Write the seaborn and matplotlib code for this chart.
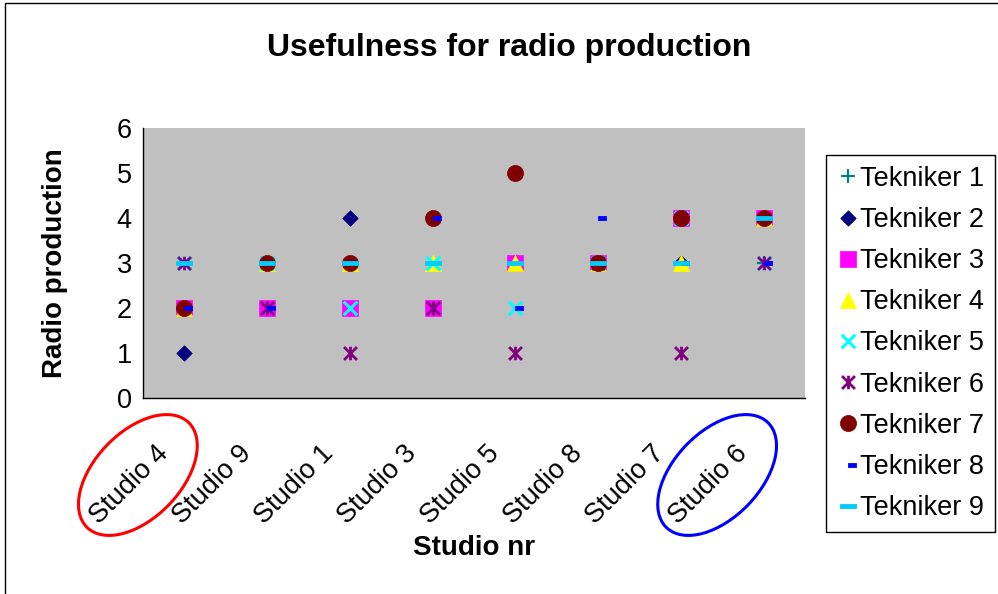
import numpy as np
import pandas as pd
import matplotlib
matplotlib.use("Agg")
import matplotlib.pyplot as plt
import matplotlib.transforms as mtransforms
from matplotlib.path import Path
from matplotlib.patches import Ellipse, Rectangle
import seaborn as sns

# ---- data -------------------------------------------------------------
studios = ["Studio 4", "Studio 9", "Studio 1", "Studio 3",
           "Studio 5", "Studio 8", "Studio 7", "Studio 6"]
tekniker_1 = [2, 3, 3, 2, 3, 3, 4, 3]
tekniker_2 = [1, 2, 4, 2, 3, 3, 3, 4]
tekniker_3 = [2, 2, 2, 2, 3, 3, 4, 4]
tekniker_4 = [2, 3, 3, 3, 3, 3, 3, 4]
tekniker_5 = [3, 3, 2, 3, 2, 3, 4, 3]
tekniker_6 = [3, 2, 1, 2, 1, 3, 1, 3]
tekniker_7 = [2, 3, 3, 4, 5, 3, 4, 4]
tekniker_8 = [2, 2, 3, 4, 2, 4, 3, 3]
tekniker_9 = [3, 3, 3, 3, 3, 3, 3, 4]
series_names = ["Tekniker 1", "Tekniker 2", "Tekniker 3", "Tekniker 4",
                "Tekniker 5", "Tekniker 6", "Tekniker 7", "Tekniker 8",
                "Tekniker 9"]
highlighted = {"Studio 4": "#FF0000", "Studio 6": "#0000FF"}

ratings = [tekniker_1, tekniker_2, tekniker_3, tekniker_4, tekniker_5,
           tekniker_6, tekniker_7, tekniker_8, tekniker_9]
df = pd.concat(
    [pd.DataFrame({"Studio": studios, "Rating": vals, "Tekniker": name})
     for name, vals in zip(series_names, ratings)],
    ignore_index=True,
)

# ---- marker shapes ------------------------------------------------------
M, L = Path.MOVETO, Path.LINETO
asterisk = Path([(-1, -1), (1, 1), (-1, 1), (1, -1), (0, -1.05), (0, 1.05)],
                [M, L, M, L, M, L])
short_dash = Path([(0, -0.3), (1, -0.3), (1, 0.3), (0, 0.3), (0, -0.3)],
                  [M, L, L, L, Path.CLOSEPOLY])
long_dash = Path([(-1, -0.3), (1, -0.3), (1, 0.3), (-1, 0.3), (-1, -0.3)],
                 [M, L, L, L, Path.CLOSEPOLY])

styles = {
    "Tekniker 1": dict(marker="+", color="#008080", s=95, linewidth=1.6),
    "Tekniker 2": dict(marker="D", color="#000080", s=62, edgecolor="#000080", linewidth=0.5),
    "Tekniker 3": dict(marker="s", color="#FF00FF", s=125, edgecolor="#FF00FF", linewidth=0.5),
    "Tekniker 4": dict(marker="^", color="#FFFF00", s=135, edgecolor="#FFFF00", linewidth=0.5),
    "Tekniker 5": dict(marker="x", color="#00FFFF", s=95, linewidth=2.2),
    "Tekniker 6": dict(marker=asterisk, color="#800080", s=95, edgecolor="#800080", linewidth=2.0),
    "Tekniker 7": dict(marker="o", color="#800000", s=135, edgecolor="#800000", linewidth=0.5),
    "Tekniker 8": dict(marker=short_dash, color="#0000FF", s=133, edgecolor="#0000FF", linewidth=0.6),
    "Tekniker 9": dict(marker=long_dash, color="#00CCFF", s=125, edgecolor="#00CCFF", linewidth=0.6),
}

# ---- figure -------------------------------------------------------------
sns.set_style("white")
plt.rcParams["font.family"] = ["Liberation Sans", "DejaVu Sans"]
plt.rcParams.update({"text.color": "black", "axes.labelcolor": "black",
                     "xtick.color": "black", "ytick.color": "black"})

W, H, DPI = 998, 594, 100
fig = plt.figure(figsize=(W / DPI, H / DPI), dpi=DPI)
fig.patch.set_facecolor("white")
ax = fig.add_axes([143 / W, (H - 398) / H, 662 / W, 270 / H])
ax.set_facecolor("#C0C0C0")

for name in series_names:
    sub = df[df["Tekniker"] == name]
    sns.scatterplot(data=sub, x="Studio", y="Rating", ax=ax, label=name,
                    legend=False, clip_on=False, **styles[name])

# ---- axes ---------------------------------------------------------------
ax.set_xlim(-0.5, len(studios) - 0.5)
ax.set_ylim(0, 6)
ax.set_yticks(range(0, 7))
for side in ("top", "right"):
    ax.spines[side].set_visible(False)
for side in ("left", "bottom"):
    ax.spines[side].set_color("black")
    ax.spines[side].set_linewidth(1.0)

ax.tick_params(axis="y", direction="out", length=3.6, width=1.0,
               color="black", labelcolor="black", labelsize=19.5, pad=4.5)
ax.set_xticks(np.arange(len(studios)))
ax.set_xticks(np.arange(-0.5, len(studios), 1.0), minor=True)
ax.set_xticklabels(studios, rotation=45, ha="right", va="bottom",
                   rotation_mode="anchor", fontsize=19.5, color="black")
ax.tick_params(axis="x", which="major", length=0, pad=0)
ax.tick_params(axis="x", which="minor", direction="out", length=3.6,
               width=1.0, color="black")
shift = mtransforms.ScaledTranslation(-11 / DPI, -61 / DPI, fig.dpi_scale_trans)
for lbl in ax.get_xticklabels():
    lbl.set_transform(lbl.get_transform() + shift)

ax.set_title("Usefulness for radio production", fontsize=23,
             fontweight="bold", color="black", x=(509 - 143) / 662, pad=52)
ax.set_xlabel("Studio nr", fontsize=20, fontweight="bold", color="black")
ax.xaxis.set_label_coords(0.5, -(535 - 398) / 270)
ax.set_ylabel("Radio production", fontsize=20, fontweight="bold", color="black")
ax.yaxis.set_label_coords(-0.114, 0.5)

# ---- legend -------------------------------------------------------------
handles, labels = ax.get_legend_handles_labels()
leg = ax.legend(handles, labels, loc="upper left",
                bbox_to_anchor=(826 / W, 1 - 155 / H),
                bbox_transform=fig.transFigure, borderaxespad=0,
                frameon=True, fancybox=False, framealpha=1,
                edgecolor="black", fontsize=19.5, handlelength=0.85,
                handletextpad=0.0, labelspacing=0.56, borderpad=0.4,
                scatteryoffsets=[0.5], labelcolor="black")
leg.get_frame().set_linewidth(1.0)

# ---- highlight rings around selected studio labels ------------------------
for studio, ring_color in highlighted.items():
    i = studios.index(studio)
    cx_px = ax.transData.transform((i, 0))[0]
    center = ((cx_px - 46.5) / DPI, (H - 475) / DPI)
    ring = Ellipse(center, 146 / DPI, 86 / DPI, angle=46,
                   transform=fig.dpi_scale_trans, fill=False,
                   edgecolor=ring_color, linewidth=2.2)
    fig.add_artist(ring)

# chart-area border
fig.add_artist(Rectangle((4.5 / DPI, -0.2), 11.0, (H - 2.5) / DPI + 0.2,
                         transform=fig.dpi_scale_trans, fill=False,
                         edgecolor="black", linewidth=1.0))

fig.savefig("out.png", dpi=DPI)
